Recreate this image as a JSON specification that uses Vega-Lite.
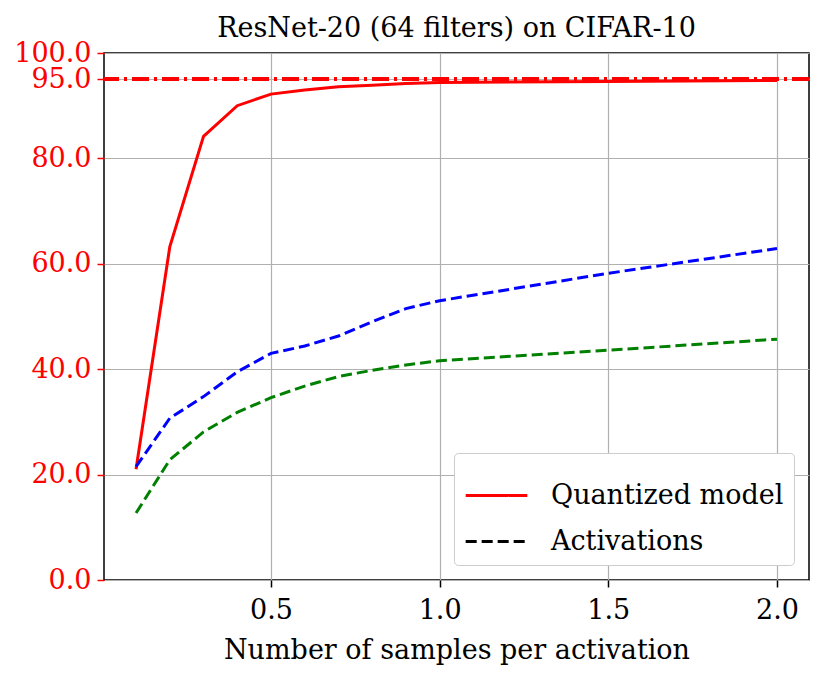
{
  "$schema": "https://vega.github.io/schema/vega-lite/v6.json",
  "autosize": "none",
  "width": 705,
  "height": 527,
  "padding": {"left": 104, "top": 53, "right": 22, "bottom": 102},
  "title": {
    "text": "ResNet-20 (64 filters) on CIFAR-10",
    "anchor": "middle",
    "offset": -4,
    "fontSize": 27,
    "fontWeight": "normal",
    "color": "black"
  },
  "data": {
    "values": [
      {"samples": 0.1, "series": "Quantized model", "accuracy": 21.0},
      {"samples": 0.2, "series": "Quantized model", "accuracy": 63.2},
      {"samples": 0.3, "series": "Quantized model", "accuracy": 84.2},
      {"samples": 0.4, "series": "Quantized model", "accuracy": 90.0},
      {"samples": 0.5, "series": "Quantized model", "accuracy": 92.2},
      {"samples": 0.6, "series": "Quantized model", "accuracy": 93.0},
      {"samples": 0.7, "series": "Quantized model", "accuracy": 93.6},
      {"samples": 0.8, "series": "Quantized model", "accuracy": 93.9},
      {"samples": 0.9, "series": "Quantized model", "accuracy": 94.2},
      {"samples": 1.0, "series": "Quantized model", "accuracy": 94.4},
      {"samples": 1.5, "series": "Quantized model", "accuracy": 94.6},
      {"samples": 2.0, "series": "Quantized model", "accuracy": 94.8},
      {"samples": 0.1, "series": "Activations", "accuracy": 21.5},
      {"samples": 0.2, "series": "Activations", "accuracy": 30.7},
      {"samples": 0.3, "series": "Activations", "accuracy": 34.8},
      {"samples": 0.4, "series": "Activations", "accuracy": 39.5},
      {"samples": 0.5, "series": "Activations", "accuracy": 43.0},
      {"samples": 0.6, "series": "Activations", "accuracy": 44.4},
      {"samples": 0.7, "series": "Activations", "accuracy": 46.3},
      {"samples": 0.8, "series": "Activations", "accuracy": 49.0},
      {"samples": 0.9, "series": "Activations", "accuracy": 51.5},
      {"samples": 1.0, "series": "Activations", "accuracy": 53.0},
      {"samples": 1.5, "series": "Activations", "accuracy": 58.2},
      {"samples": 2.0, "series": "Activations", "accuracy": 62.9},
      {"samples": 0.1, "series": "Activations (2)", "accuracy": 12.7},
      {"samples": 0.2, "series": "Activations (2)", "accuracy": 22.8},
      {"samples": 0.3, "series": "Activations (2)", "accuracy": 28.1},
      {"samples": 0.4, "series": "Activations (2)", "accuracy": 31.8},
      {"samples": 0.5, "series": "Activations (2)", "accuracy": 34.6},
      {"samples": 0.6, "series": "Activations (2)", "accuracy": 36.8},
      {"samples": 0.7, "series": "Activations (2)", "accuracy": 38.6},
      {"samples": 0.8, "series": "Activations (2)", "accuracy": 39.8},
      {"samples": 0.9, "series": "Activations (2)", "accuracy": 40.8},
      {"samples": 1.0, "series": "Activations (2)", "accuracy": 41.6},
      {"samples": 1.5, "series": "Activations (2)", "accuracy": 43.6},
      {"samples": 2.0, "series": "Activations (2)", "accuracy": 45.7}
    ]
  },
  "encoding": {
    "x": {
      "field": "samples",
      "type": "quantitative",
      "title": "Number of samples per activation",
      "scale": {"domain": [0.005, 2.095], "nice": false, "zero": false},
      "axis": {
        "values": [0.5, 1.0, 1.5, 2.0],
        "format": ".1f",
        "tickSize": 7,
        "tickColor": "black",
        "tickWidth": 1.5,
        "labelPadding": 10,
        "titlePadding": 14
      }
    },
    "y": {
      "field": "accuracy",
      "type": "quantitative",
      "title": null,
      "scale": {"domain": [0, 100], "nice": false},
      "axis": {
        "values": [0, 20, 40, 60, 80, 95, 100],
        "format": ".1f",
        "labelColor": "red",
        "labelOverlap": false,
        "tickColor": "red",
        "tickSize": 7,
        "tickWidth": 1.5,
        "labelPadding": 6
      }
    }
  },
  "layer": [
    {
      "transform": [{"filter": "datum.series === 'Quantized model'"}],
      "mark": {"type": "line", "strokeWidth": 3},
      "encoding": {
        "stroke": {
          "field": "series",
          "type": "nominal",
          "scale": {
            "domain": ["Quantized model", "Activations", "Activations (2)"],
            "range": ["#ff0000", "#0000ff", "#008000"]
          },
          "legend": null
        }
      }
    },
    {
      "transform": [{"filter": "datum.series !== 'Quantized model'"}],
      "mark": {"type": "line", "strokeWidth": 3, "strokeDash": [11, 5]},
      "encoding": {
        "stroke": {
          "field": "series",
          "type": "nominal",
          "scale": {
            "domain": ["Quantized model", "Activations", "Activations (2)"],
            "range": ["#ff0000", "#0000ff", "#008000"]
          },
          "legend": null
        }
      }
    },
    {
      "transform": [{"filter": "datum.series !== 'Activations (2)'"}],
      "mark": {"type": "line", "strokeWidth": 3, "opacity": 0},
      "encoding": {
        "color": {
          "field": "series",
          "type": "nominal",
          "scale": {
            "domain": ["Quantized model", "Activations"],
            "range": ["#ff0000", "#000000"]
          },
          "legend": {
            "title": null,
            "orient": "bottom-right",
            "offset": 15,
            "symbolType": "stroke",
            "symbolSize": 3800,
            "symbolStrokeWidth": 3,
            "symbolOpacity": 1,
            "labelFontSize": 27,
            "labelOffset": 22,
            "labelLimit": 400,
            "rowPadding": -28,
            "padding": 10,
            "fillColor": "white",
            "strokeColor": "#cccccc",
            "cornerRadius": 4
          }
        },
        "strokeDash": {
          "field": "series",
          "type": "nominal",
          "scale": {
            "domain": ["Quantized model", "Activations"],
            "range": [[1, 0], [11, 5]]
          },
          "legend": {
            "title": null,
            "orient": "bottom-right",
            "offset": 15,
            "symbolType": "stroke",
            "symbolSize": 3800,
            "symbolStrokeWidth": 3,
            "symbolOpacity": 1,
            "labelFontSize": 27,
            "labelOffset": 22,
            "labelLimit": 400,
            "rowPadding": -28,
            "padding": 10,
            "fillColor": "white",
            "strokeColor": "#cccccc",
            "cornerRadius": 4
          }
        }
      }
    },
    {
      "mark": {"type": "rule", "color": "#ff0000", "strokeWidth": 3, "strokeDash": [17, 5, 3, 5]},
      "encoding": {"y": {"datum": 95}, "x": null}
    }
  ],
  "config": {
    "font": "DejaVu Serif",
    "view": {"stroke": "black", "strokeWidth": 1.5},
    "title": {"font": "DejaVu Serif"},
    "axis": {
      "labelFontSize": 27,
      "titleFontSize": 27,
      "titleFontWeight": "normal",
      "labelColor": "black",
      "titleColor": "black",
      "domain": false,
      "gridColor": "#b0b0b0",
      "gridWidth": 1.2,
      "gridOpacity": 1,
      "labelFont": "DejaVu Serif",
      "titleFont": "DejaVu Serif"
    },
    "legend": {
      "labelFont": "DejaVu Serif",
      "labelColor": "black"
    }
  }
}
